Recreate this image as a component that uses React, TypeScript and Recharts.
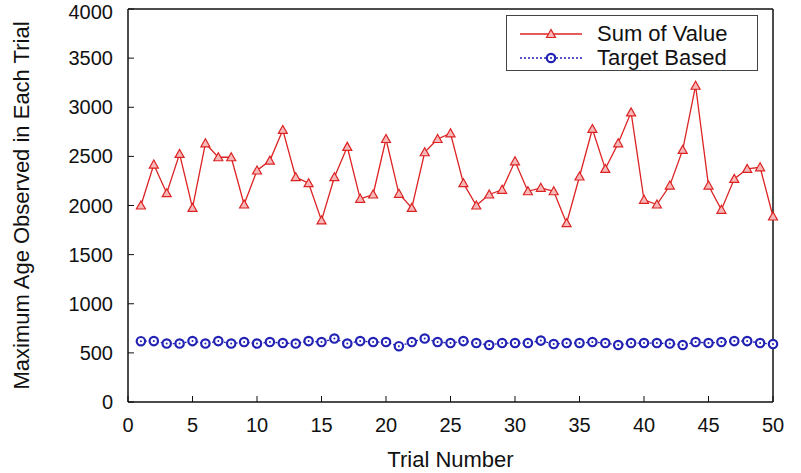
import { Legend, Line, LineChart, XAxis, YAxis } from "recharts";

const trials = [
  1, 2, 3, 4, 5, 6, 7, 8, 9, 10, 11, 12, 13, 14, 15, 16, 17, 18, 19, 20, 21, 22, 23, 24, 25,
  26, 27, 28, 29, 30, 31, 32, 33, 34, 35, 36, 37, 38, 39, 40, 41, 42, 43, 44, 45, 46, 47, 48, 49, 50,
];

const sumOfValue = [
  2000, 2417, 2125, 2525, 1976, 2633, 2491, 2491, 2010, 2356, 2457, 2769, 2288, 2227, 1848, 2288,
  2597, 2068, 2112, 2677, 2119, 1976, 2542, 2677, 2735, 2227, 2000, 2112, 2160, 2450, 2145, 2180,
  2145, 1820, 2295, 2779, 2373, 2633, 2948, 2058, 2010, 2203, 2566, 3219, 2203, 1956, 2271, 2373,
  2389, 1888,
];

const targetBased = [
  619, 620, 595, 595, 620, 595, 620, 595, 610, 595, 610, 600, 595, 620, 610, 646, 595, 620, 610,
  610, 568, 610, 646, 610, 600, 620, 600, 580, 600, 600, 600, 625, 590, 600, 600, 610, 600, 580,
  600, 600, 600, 595, 580, 610, 600, 610, 620, 620, 600, 590,
];

const xTicks = [0, 5, 10, 15, 20, 25, 30, 35, 40, 45, 50];
const yTicks = [0, 500, 1000, 1500, 2000, 2500, 3000, 3500, 4000];

const data = trials.map((t, i) => ({ trial: t, sum: sumOfValue[i], target: targetBased[i] }));

const RED = "#dc2222";
const BLUE = "#2222b4";
const FONT = "'Liberation Sans', Arial, Helvetica, sans-serif";

function Triangle({ cx, cy }: { cx?: number; cy?: number }) {
  if (cx == null || cy == null) return null;
  return (
    <polygon
      points={`${cx},${cy - 4.5} ${cx - 4.5},${cy + 3.5} ${cx + 4.5},${cy + 3.5}`}
      fill="#f6b8b8"
      stroke={RED}
      strokeWidth={1.2}
    />
  );
}

function Ring({ cx, cy }: { cx?: number; cy?: number }) {
  if (cx == null || cy == null) return null;
  return (
    <g>
      <circle cx={cx} cy={cy} r={4.2} fill="#fff" stroke={BLUE} strokeWidth={2.2} />
      <circle cx={cx} cy={cy} r={1} fill={BLUE} />
    </g>
  );
}

function LegendBox() {
  const row = (label: string, color: string, dashed: boolean, marker: "tri" | "ring") => (
    <div style={{ display: "flex", alignItems: "center", height: 24 }}>
      <svg width={90} height={24} style={{ display: "block" }}>
        <line
          x1={13}
          x2={75}
          y1={12}
          y2={12}
          stroke={color}
          strokeWidth={1.3}
          strokeDasharray={dashed ? "2 2" : undefined}
        />
        {marker === "tri" ? <Triangle cx={44} cy={12} /> : <Ring cx={44} cy={12} />}
      </svg>
      <span style={{ fontSize: 22, lineHeight: "24px", color: "#111" }}>{label}</span>
    </div>
  );
  return (
    <div
      style={{
        width: 252,
        height: 56,
        border: "1px solid #444",
        background: "#fff",
        fontFamily: FONT,
        paddingTop: 6,
        boxSizing: "border-box",
      }}
    >
      {row("Sum of Value", RED, false, "tri")}
      {row("Target Based", BLUE, true, "ring")}
    </div>
  );
}

export default function App() {
  return (
    <div style={{ position: "absolute", left: 0, top: 0, background: "#fff" }}>
      <LineChart
        width={801}
        height={473}
        data={data}
        margin={{ top: 9, right: 28, left: 0, bottom: 0 }}
        style={{ fontFamily: FONT }}
      >
        <XAxis
          xAxisId="x"
          dataKey="trial"
          type="number"
          domain={[0, 50]}
          ticks={xTicks}
          height={71}
          tickSize={-6}
          tickMargin={22}
          tick={{ fontSize: 20, fill: "#111" }}
          axisLine={{ stroke: "#111", strokeWidth: 1.5 }}
          tickLine={{ stroke: "#111" }}
          label={{ value: "Trial Number", position: "insideBottom", offset: 6, fontSize: 22, fill: "#111" }}
        />
        <XAxis
          xAxisId="xt"
          orientation="top"
          type="number"
          domain={[0, 50]}
          allowDataOverflow
          ticks={xTicks}
          mirror
          tick={false}
          tickSize={6}
          axisLine={{ stroke: "#111", strokeWidth: 1.5 }}
          tickLine={{ stroke: "#111" }}
        />
        <YAxis
          yAxisId="y"
          type="number"
          domain={[0, 4000]}
          ticks={yTicks}
          width={128}
          tickSize={-6}
          tickMargin={21}
          tick={{ fontSize: 20, fill: "#111" }}
          axisLine={{ stroke: "#111", strokeWidth: 1.5 }}
          tickLine={{ stroke: "#111" }}
          label={{
            value: "Maximum Age Observed in Each Trial",
            angle: -90,
            position: "insideLeft",
            offset: 21,
            fontSize: 22,
            fill: "#111",
            style: { textAnchor: "middle" },
          }}
        />
        <YAxis
          yAxisId="yr"
          orientation="right"
          type="number"
          domain={[0, 4000]}
          allowDataOverflow
          ticks={yTicks}
          mirror
          tick={false}
          tickSize={6}
          axisLine={{ stroke: "#111", strokeWidth: 1.5 }}
          tickLine={{ stroke: "#111" }}
        />
        <Legend
          layout="vertical"
          align="center"
          verticalAlign="middle"
          content={() => <LegendBox />}
          wrapperStyle={{ left: 506, top: 15, width: 254, height: 58 }}
        />
        <Line
          xAxisId="x"
          yAxisId="y"
          type="linear"
          dataKey="sum"
          name="Sum of Value"
          stroke={RED}
          strokeWidth={1.3}
          dot={(p: any) => <Triangle key={`t${p.index}`} cx={p.cx} cy={p.cy} />}
          activeDot={false}
          isAnimationActive={false}
        />
        <Line
          xAxisId="x"
          yAxisId="y"
          type="linear"
          dataKey="target"
          name="Target Based"
          stroke={BLUE}
          strokeWidth={1.3}
          strokeDasharray="2 2"
          dot={(p: any) => <Ring key={`r${p.index}`} cx={p.cx} cy={p.cy} />}
          activeDot={false}
          isAnimationActive={false}
        />
      </LineChart>
    </div>
  );
}
